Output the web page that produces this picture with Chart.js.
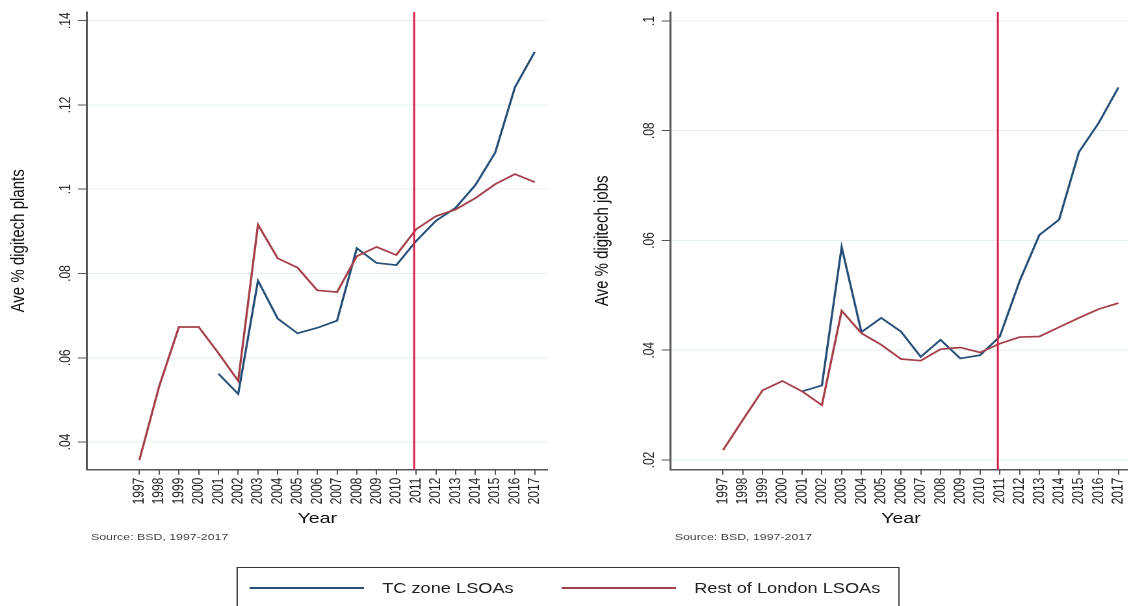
<!DOCTYPE html>
<html>
<head>
<meta charset="utf-8">
<script src="https://cdn.jsdelivr.net/npm/chart.js@4/dist/chart.umd.min.js"></script>
<style>
  html, body { margin: 0; padding: 0; background: #fff; }
  #wrap { position: relative; width: 1128px; height: 606px; overflow: hidden; }
  /* the reference is stretched sideways, so draw narrow and stretch */
  #page { position: absolute; left: 0; top: 0; width: 868px; height: 606px;
          transform: scaleX(1.3); transform-origin: 0 0;
          font-family: "Liberation Sans", Arial, sans-serif; }
  .box { position: absolute; top: 0; width: 436px; height: 540px; }
  .src { position: absolute; top: 531px; font-size: 9.5px; line-height: 12px; color: #444; }
  #legend { position: absolute; left: 182px; top: 567px; width: 510px; height: 60px;
            border: 1.5px solid #333; box-sizing: border-box; }
  .key { position: absolute; top: 19px; height: 2px; width: 88px; }
  .lab { position: absolute; top: 12px; font-size: 14px; line-height: 16px; color: #222; }
</style>
</head>
<body>
<div id="wrap">
  <div id="page">
    <div class="box" style="left:0px"><canvas id="plants"></canvas></div>
    <div class="box" style="left:449.3px"><canvas id="jobs"></canvas></div>
    <div class="src" style="left:70px">Source: BSD, 1997-2017</div>
    <div class="src" style="left:519px">Source: BSD, 1997-2017</div>
    <div id="legend">
      <div class="key" style="left:9px; background:#264f78"></div>
      <div class="lab" style="left:111px">TC zone LSOAs</div>
      <div class="key" style="left:249px; background:#a53f4a"></div>
      <div class="lab" style="left:351px">Rest of London LSOAs</div>
    </div>
  </div>
</div>
<script>
// DATA
const years = [1997, 1998, 1999, 2000, 2001, 2002, 2003, 2004, 2005, 2006, 2007,
               2008, 2009, 2010, 2011, 2012, 2013, 2014, 2015, 2016, 2017];

const plantsTC = [null, null, null, null, 0.0562, 0.0514, 0.0783, 0.0693, 0.0658, 0.0671, 0.0688,
                  0.0860, 0.0825, 0.0820, 0.0877, 0.0925, 0.0956, 0.1010, 0.1087, 0.1242, 0.1326];
const plantsRest = [0.0357, 0.0532, 0.0673, 0.0673, 0.0611, 0.0545, 0.0916, 0.0836, 0.0814, 0.0760, 0.0756,
                    0.0841, 0.0863, 0.0844, 0.0905, 0.0936, 0.0952, 0.0979, 0.1012, 0.1036, 0.1017];

const jobsTC = [null, null, null, null, 0.0325, 0.0336, 0.0588, 0.0433, 0.0459, 0.0434, 0.0388,
                0.0419, 0.0385, 0.0391, 0.0425, 0.0526, 0.0610, 0.0638, 0.0761, 0.0814, 0.0879];
const jobsRest = [0.0218, 0.0273, 0.0327, 0.0344, 0.0325, 0.0300, 0.0472, 0.0431, 0.0410, 0.0384, 0.0381,
                  0.0402, 0.0405, 0.0396, 0.0412, 0.0424, 0.0425, 0.0442, 0.0459, 0.0475, 0.0486];

const plantsTicks = [0.04, 0.06, 0.08, 0.10, 0.12, 0.14];
const plantsTickLabels = [".04", ".06", ".08", ".1", ".12", ".14"];
const jobsTicks = [0.02, 0.04, 0.06, 0.08, 0.10];
const jobsTickLabels = [".02", ".04", ".06", ".08", ".1"];

const breakYear = 2010.9;

// SETUP
const FONT = "'Liberation Sans', Arial, sans-serif";
const BLUE = "#264f78";
const RED = "#a53f4a";

// rotated y tick labels and the vertical break line
const extras = {
    id: "extras",
    afterDatasetsDraw(chart, args, opts) {
        const ctx = chart.ctx;
        const x = chart.scales.x;
        const a = chart.chartArea;
        const px = x.getPixelForValue(breakYear);
        ctx.save();
        ctx.strokeStyle = "#d61f48";
        ctx.lineWidth = 1.5;
        ctx.beginPath();
        ctx.moveTo(px, a.top);
        ctx.lineTo(px, a.bottom);
        ctx.stroke();
        ctx.restore();
    },
    afterDraw(chart, args, opts) {
        const ctx = chart.ctx;
        const y = chart.scales.y;
        const a = chart.chartArea;
        ctx.save();
        ctx.fillStyle = "#222";
        ctx.font = "12px " + FONT;
        ctx.textAlign = "center";
        ctx.textBaseline = "middle";
        opts.values.forEach((v, i) => {
            const py = y.getPixelForValue(v);
            ctx.save();
            ctx.translate(a.left - 16, py);
            ctx.rotate(-Math.PI / 2);
            ctx.fillText(opts.labels[i], 0, 0);
            ctx.restore();
        });
        ctx.restore();
    },
};

function makeChart(id, tc, rest, yMin, yMax, yTicks, yTickLabels, yTitle) {
    const config = {
        type: "line",
        data: {
            datasets: [
                {
                    label: "TC zone LSOAs",
                    data: years.map((yr, i) => ({ x: yr, y: tc[i] })),
                    borderColor: BLUE,
                    borderWidth: 1.7,
                    pointRadius: 0,
                    spanGaps: false,
                    order: 1,
                },
                {
                    label: "Rest of London LSOAs",
                    data: years.map((yr, i) => ({ x: yr, y: rest[i] })),
                    borderColor: RED,
                    borderWidth: 1.7,
                    pointRadius: 0,
                    order: 0,
                },
            ],
        },
        options: {
            responsive: true,
            maintainAspectRatio: false,
            animation: false,
            devicePixelRatio: 2,
            layout: { padding: { top: 12, right: 14.8, bottom: 12.3, left: 0 } },
            scales: {
                x: {
                    type: "linear",
                    min: 1994.35,
                    max: 2017.65,
                    afterBuildTicks: (s) => { s.ticks = years.map((v) => ({ value: v })); },
                    afterFit: (s) => { s.height = 58; },
                    ticks: {
                        autoSkip: false,
                        minRotation: 90,
                        maxRotation: 90,
                        padding: 3,
                        color: "#222",
                        font: { family: FONT, size: 12 },
                        callback: (v) => String(v),
                    },
                    grid: { drawOnChartArea: false, tickLength: 5, tickColor: "#555", tickWidth: 1 },
                    border: { color: "#555", width: 1.5 },
                    title: {
                        display: true,
                        text: "Year",
                        color: "#111",
                        font: { family: FONT, size: 15 },
                        padding: { top: 0, bottom: 0 },
                    },
                },
                y: {
                    min: yMin,
                    max: yMax,
                    afterBuildTicks: (s) => { s.ticks = yTicks.map((v) => ({ value: v })); },
                    afterFit: (s) => { s.width = 66.9; },
                    ticks: { display: false },
                    grid: { color: "#e4eef0", lineWidth: 1, tickLength: 7, tickColor: "#555", tickWidth: 1 },
                    border: { color: "#555", width: 1.5 },
                    title: {
                        display: true,
                        text: yTitle,
                        color: "#111",
                        font: { family: FONT, size: 15 },
                        padding: { top: 5.6, bottom: 0 },
                    },
                },
            },
            plugins: {
                legend: { display: false },
                tooltip: { enabled: false },
                extras: { values: yTicks, labels: yTickLabels },
            },
        },
        plugins: [extras],
    };
    return new Chart(document.getElementById(id), config);
}

const plantsChart = makeChart("plants", plantsTC, plantsRest, 0.03343, 0.14207,
                              plantsTicks, plantsTickLabels, "Ave % digitech plants");
const jobsChart = makeChart("jobs", jobsTC, jobsRest, 0.01823, 0.10164,
                            jobsTicks, jobsTickLabels, "Ave % digitech jobs");
</script>
</body>
</html>
